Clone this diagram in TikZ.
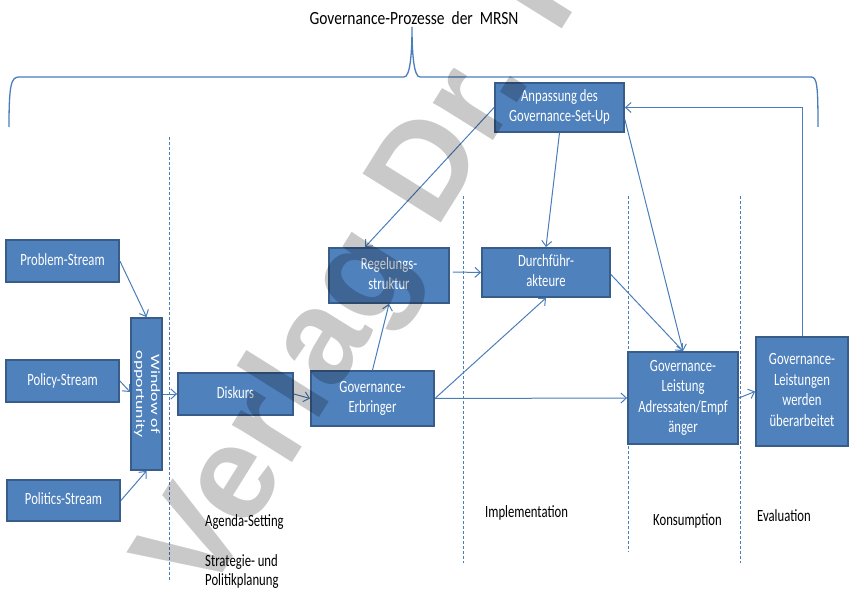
\documentclass[tikz,border=0pt]{standalone}
\usepackage{graphicx}
\usepackage{fontspec}
\setmainfont{Carlito}
\newfontfamily\wmfont{Liberation Sans}
\usetikzlibrary{arrows.meta}
\definecolor{boxfill}{HTML}{4F81BD}
\definecolor{boxline}{HTML}{385D8A}
\definecolor{linec}{HTML}{4A7EBB}
\newcommand\stc[1]{\scalebox{1}[1.35]{\begin{tabular}{@{}c@{}}#1\end{tabular}}}
\newcommand\stl[1]{\scalebox{1}[1.35]{\begin{tabular}{@{}l@{}}#1\end{tabular}}}
\begin{document}
\begin{tikzpicture}[x=1pt,y=-1pt,
  box/.style={draw=boxline, line width=1.8pt, fill=boxfill, text=white,
    font=\fontsize{12.7}{15.2}\selectfont, inner sep=0pt},
  arr/.style={draw=linec, line width=1pt, -{Straight Barb[length=5.5pt,width=10pt]}},
  phase/.style={draw=linec, line width=0.8pt, dash pattern=on 3pt off 2pt},
  lbl/.style={font=\fontsize{12.7}{14.1}\selectfont, anchor=west, inner sep=0pt}]
\useasboundingbox (0,0) rectangle (849,591);

% title and brace
\node[font=\fontsize{15.5}{18}\selectfont, inner sep=0pt] (title) at (414,18)
  {\scalebox{1}[1.2]{Governance-Prozesse\ \ der\ \ MRSN}};
\draw[linec, line width=1.3pt] (9,127) .. controls (9,85) and (11,77) .. (19,77) -- (404,77)
  .. controls (410,77) and (412,55) .. (412,27) .. controls (412,55) and (414,77) .. (420,77)
  -- (811,77) .. controls (817,77) and (818,85) .. (818,127);

% phase separators
\draw[phase] (169,137) -- (169,580);
\draw[phase] (463,196) -- (463,563);
\draw[phase] (628,196) -- (628,552);
\draw[phase] (740,196) -- (740,563);

% boxes
\node[box, minimum width=113pt, minimum height=42pt] (prob) at (62.5,261) {\stc{Problem-Stream}};
\node[box, minimum width=113pt, minimum height=42pt] (poli) at (62.5,381) {\stc{Policy-Stream}};
\node[box, minimum width=113pt, minimum height=41pt] (polit) at (63.5,500.5) {\stc{Politics-Stream}};
\node[box, minimum width=31pt, minimum height=152pt] (win) at (146.5,394) {};
\node[rotate=-90, text=white, inner sep=0pt,
  font=\fontsize{12.7}{15}\selectfont] (wintext) at (win.center)
  {\scalebox{1.4}[1]{\begin{tabular}{@{}c@{}}Window of\\opportunity\end{tabular}}};
\node[box, minimum width=115pt, minimum height=42pt] (disk) at (235.5,394) {\stc{Diskurs}};
\node[box, minimum width=123pt, minimum height=55pt] (erb) at (372.5,398.5) {\stc{Governance-\\Erbringer}};
\node[box, minimum width=120pt, minimum height=55pt] (reg) at (389,275.5) {\stc{Regelungs-\\struktur}};
\node[box, minimum width=128pt, minimum height=49pt] (dur) at (546,272.5) {\stc{Durchführ-\\akteure}};
\node[box, minimum width=129pt, minimum height=49pt] (anp) at (559.5,107.5) {\stc{Anpassung des\\Governance-Set-Up}};
\node[box, minimum width=110pt, minimum height=92pt] (leist) at (683,398) {\stc{Governance-\\Leistung\\Adressaten/Empf\\änger}};
\node[box, minimum width=92pt, minimum height=109pt] (eval) at (802,391.5) {\stc{Governance-\\Leistungen\\werden\\überarbeitet}};

% connectors
\draw[arr] (prob.east) -- (win.north);
\draw[arr] (poli.east) -- ([yshift=2pt]win.west);
\draw[arr] (polit.east) -- (win.south);
\draw[arr] (win.east) -- (disk.west);
\draw[arr] (disk.east) -- (erb.west);
\draw[arr] (erb.north) -- (reg.south);
\draw[arr] (erb.east) -- (dur.south);
\draw[arr] (erb.east) -- (leist.west);
\draw[arr] ([xshift=3pt,yshift=3.5pt]reg.east) -- (dur.west);
\draw[arr] (anp.west) -- ([xshift=-24pt]reg.north);
\draw[arr] (anp.south) -- (dur.north);
\draw[arr] ([yshift=-12pt]anp.east) -- (leist.north);
\draw[arr] ([yshift=-2pt]dur.east) -- (leist.north);
\draw[arr] (leist.east) -- (eval.west);
\draw[arr] (eval.north) |- (anp.east);

% phase labels
\node[lbl] (agenda) at (205,523) {\stl{Agenda-Setting}};
\node[lbl] (strat) at (205,572.5) {\stl{Strategie- und\\Politikplanung}};
\node[lbl] (impl) at (485,514) {\stl{Implementation}};
\node[lbl] (kons) at (653,522) {\stl{Konsumption}};
\node[lbl] (evall) at (757,518) {\stl{Evaluation}};

% watermark
\begin{scope}
\clip (0,0) rectangle (849,591);
\node[rotate=58, anchor=base west, inner sep=0pt, text=black, text opacity=0.21,
  font=\wmfont\bfseries\fontsize{134}{150}\selectfont] (wm) at (204,603) {Verlag Dr. Kovač};
\end{scope}
\end{tikzpicture}
\end{document}
